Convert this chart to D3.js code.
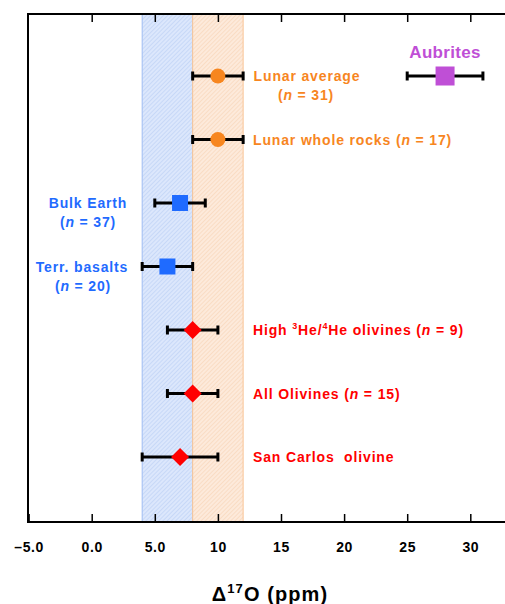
<!DOCTYPE html>
<html>
<head>
<meta charset="utf-8">
<script src="https://cdn.jsdelivr.net/npm/d3@7"></script>
<style>
  body { margin: 0; background: #fff; }
  text { font-family: "Liberation Sans", Arial, sans-serif; font-weight: bold; }
</style>
</head>
<body>
<div id="chart"></div>
<script>
// chart size
var svgWidth = 505;
var svgHeight = 604;

var margin = { top: 14, left: 28 };
var plotBottom = 522;

// data
var names = ["Lunar average", "Lunar whole rocks", "Bulk Earth", "Terr. basalts",
             "High olivines", "All Olivines", "San Carlos olivine", "Aubrites"];
var rows = [0, 1, 2, 3, 4, 5, 6, 0];
var values = [10, 10, 7, 6, 8, 8, 7, 28];
var lows = [8, 8, 5, 4, 6, 6, 4, 25];
var highs = [12, 12, 9, 8, 10, 10, 10, 31];
var markers = ["circle", "circle", "square", "square", "diamond", "diamond", "diamond", "bigsquare"];
var colors = ["#f7861f", "#f7861f", "#1f6bff", "#1f6bff", "#ff0000", "#ff0000", "#ff0000", "#bf4fd6"];

var tickValues = [-5, 0, 5, 10, 15, 20, 25, 30];
var tickLabels = ["\u20135.0", "0.0", "5.0", "10", "15", "20", "25", "30"];

// shaded ranges (blue = Earth, orange = Moon)
var bandStarts = [4, 8];
var bandEnds = [8, 12];

var svg = d3.select("#chart")
  .append("svg")
  .attr("width", svgWidth)
  .attr("height", svgHeight);

var xScale = d3.scaleLinear()
  .domain([-5, 35])
  .range([28.6, 533.4]);

// one row per sample, top to bottom
var yScale = d3.scaleLinear()
  .domain([0, 6])
  .range([76, 457]);

// hatch patterns for the bands
var defs = svg.append("defs");
var hatchCols = [["#dce7fc", "#b3c9f3"], ["#fdeadb", "#f6cfae"]];
hatchCols.forEach(function(c, i) {
  var p = defs.append("pattern")
    .attr("id", "hatch" + i)
    .attr("patternUnits", "userSpaceOnUse")
    .attr("width", 3)
    .attr("height", 3)
    .attr("patternTransform", "rotate(45)");
  p.append("rect").attr("width", 3).attr("height", 3).attr("fill", c[0]);
  p.append("line").attr("x1", 0).attr("y1", 0).attr("x2", 0).attr("y2", 3)
    .attr("stroke", c[1]).attr("stroke-width", 1);
});

var bandBorders = ["#9fbcf2", "#f9c596"];
bandStarts.forEach(function(s, i) {
  svg.append("rect")
    .attr("x", xScale(s))
    .attr("y", margin.top)
    .attr("width", xScale(bandEnds[i]) - xScale(s))
    .attr("height", plotBottom - margin.top)
    .attr("fill", "url(#hatch" + i + ")");
  [s, bandEnds[i]].forEach(function(v) {
    svg.append("line")
      .attr("x1", xScale(v)).attr("x2", xScale(v))
      .attr("y1", margin.top).attr("y2", plotBottom)
      .attr("stroke", bandBorders[i]).attr("stroke-width", 1);
  });
});

// frame
svg.append("line").attr("x1", 28).attr("x2", svgWidth + 5)
  .attr("y1", margin.top).attr("y2", margin.top)
  .attr("stroke", "#000").attr("stroke-width", 2);
svg.append("line").attr("x1", 28).attr("x2", svgWidth + 5)
  .attr("y1", plotBottom).attr("y2", plotBottom)
  .attr("stroke", "#000").attr("stroke-width", 2);
svg.append("line").attr("x1", 28).attr("x2", 28)
  .attr("y1", margin.top - 1).attr("y2", plotBottom + 1)
  .attr("stroke", "#000").attr("stroke-width", 2);

// bottom axis with inward ticks
var bottomAxis = d3.axisBottom(xScale)
  .tickValues(tickValues)
  .tickSizeInner(-8)
  .tickSizeOuter(0)
  .tickPadding(20)
  .tickFormat(function(d, i) { return tickLabels[i]; });

var xAxis = svg.append("g")
  .attr("transform", `translate(0, ${plotBottom})`)
  .call(bottomAxis);
xAxis.select(".domain").remove();
xAxis.selectAll("line").attr("stroke", "#000").attr("stroke-width", 1.5);
xAxis.selectAll("text")
  .attr("font-size", "14px")
  .attr("fill", "#000")
  .attr("letter-spacing", "0.6px")
  .style("font-family", "'Liberation Sans', Arial, sans-serif")
  .style("font-weight", "bold");

// top ticks
var topAxis = d3.axisTop(xScale)
  .tickValues(tickValues.slice(1))
  .tickSizeInner(-8)
  .tickSizeOuter(0)
  .tickFormat("");
var xTop = svg.append("g")
  .attr("transform", `translate(0, ${margin.top})`)
  .call(topAxis);
xTop.select(".domain").remove();
xTop.selectAll("line").attr("stroke", "#000").attr("stroke-width", 1.5);

// axis title
var title = svg.append("text")
  .attr("x", 270)
  .attr("y", 601)
  .attr("text-anchor", "middle")
  .attr("font-size", "20px")
  .attr("letter-spacing", "1.1px")
  .attr("fill", "#000");
title.append("tspan").text("\u0394");
title.append("tspan").attr("font-size", "13px").attr("dy", -8).text("17");
title.append("tspan").attr("dy", 8).text("O (ppm)");

// error bars
var bars = svg.append("g");
names.forEach(function(n, i) {
  var y = yScale(rows[i]);
  bars.append("line")
    .attr("x1", xScale(lows[i])).attr("x2", xScale(highs[i]))
    .attr("y1", y).attr("y2", y)
    .attr("stroke", "#000").attr("stroke-width", 3);
  [lows[i], highs[i]].forEach(function(v) {
    bars.append("line")
      .attr("x1", xScale(v)).attr("x2", xScale(v))
      .attr("y1", y - 4.5).attr("y2", y + 4.5)
      .attr("stroke", "#000").attr("stroke-width", 3);
  });
});

// markers
names.forEach(function(n, i) {
  var cx = xScale(values[i]);
  var cy = yScale(rows[i]);
  if (markers[i] === "circle") {
    svg.append("circle").attr("cx", cx).attr("cy", cy).attr("r", 7.5).attr("fill", colors[i]);
  } else if (markers[i] === "square" || markers[i] === "bigsquare") {
    var s = markers[i] === "square" ? 16 : 19;
    svg.append("rect").attr("x", cx - s / 2).attr("y", cy - s / 2)
      .attr("width", s).attr("height", s).attr("fill", colors[i]);
  } else {
    var h = 9;
    svg.append("path")
      .attr("d", `M${cx},${cy - h}L${cx + h},${cy}L${cx},${cy + h}L${cx - h},${cy}Z`)
      .attr("fill", colors[i]);
  }
});

// labels
function label(x, y, anchor, color, size) {
  return svg.append("text")
    .attr("x", x).attr("y", y)
    .attr("text-anchor", anchor)
    .attr("font-size", size || "14px")
    .attr("letter-spacing", "0.85px")
    .attr("fill", color);
}
function nLine(t, count) {
  t.append("tspan").text("(");
  t.append("tspan").attr("font-style", "italic").text("n");
  t.append("tspan").text(" = " + count + ")");
}

label(307, yScale(0) + 5, "middle", colors[0]).text("Lunar average");
nLine(label(306, yScale(0) + 24, "middle", colors[0]), 31);

var lw = label(253, yScale(1) + 5, "start", colors[1]);
lw.append("tspan").text("Lunar whole rocks ");
nLine(lw, 17);

label(88, yScale(2) + 5, "middle", colors[2]).text("Bulk Earth");
nLine(label(88, yScale(2) + 24, "middle", colors[2]), 37);

label(82, yScale(3) + 5, "middle", colors[3]).text("Terr. basalts");
nLine(label(83, yScale(3) + 24, "middle", colors[3]), 20);

var he = label(253, yScale(4) + 5, "start", colors[4]);
he.append("tspan").text("High ");
he.append("tspan").attr("font-size", "9px").attr("dy", -6).text("3");
he.append("tspan").attr("dy", 6).text("He/");
he.append("tspan").attr("font-size", "9px").attr("dy", -6).text("4");
he.append("tspan").attr("dy", 6).text("He olivines ");
nLine(he, 9);

var ao = label(253, yScale(5) + 5, "start", colors[5]);
ao.append("tspan").text("All Olivines ");
nLine(ao, 15);

label(253, yScale(6) + 5, "start", colors[6]).text("San Carlos  olivine").style("white-space", "pre");

label(445, yScale(0) - 18, "middle", colors[7], "17px").attr("letter-spacing", "0.3px").text("Aubrites");
</script>
</body>
</html>
